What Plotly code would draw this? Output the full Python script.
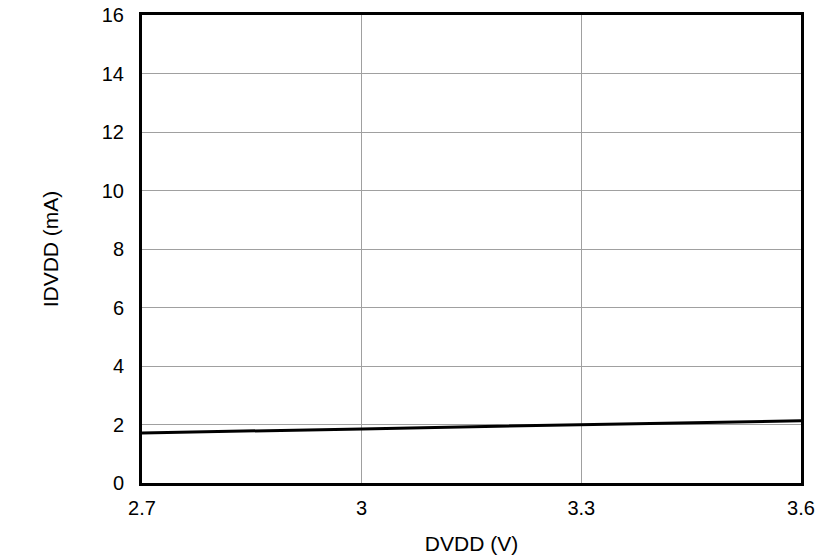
import plotly.graph_objects as go

dvdd = [2.7, 2.8, 2.9, 3.0, 3.1, 3.2, 3.3, 3.4, 3.5, 3.6]
idvdd = [1.71, 1.75, 1.80, 1.85, 1.90, 1.95, 2.00, 2.04, 2.08, 2.13]
xticks = [2.7, 3.0, 3.3, 3.6]
xticklabels = ["2.7", "3", "3.3", "3.6"]
yticks = [0, 2, 4, 6, 8, 10, 12, 14, 16]

fig = go.Figure(go.Scatter(x=dvdd, y=idvdd, mode="lines",
                           line=dict(color="black", width=3), showlegend=False))
tfont = dict(family="Liberation Sans, Arial, sans-serif", size=20, color="black")
hfont = dict(family="Liberation Sans, Arial, sans-serif", size=21, color="black")
fig.update_layout(
    width=839, height=559, paper_bgcolor="white", plot_bgcolor="white",
    margin=dict(l=142, r=38, t=15, b=76, autoexpand=False), font=tfont,
)
fig.update_xaxes(range=[2.7, 3.6], tickvals=xticks, ticktext=xticklabels,
                 showline=True, linecolor="black", linewidth=3, mirror=True,
                 showgrid=True, gridcolor="#a0a0a0", gridwidth=1, zeroline=False,
                 ticks="", ticklabelstandoff=5, tickfont=tfont, automargin=False,
                 title=dict(text="DVDD (V)", standoff=19, font=hfont))
fig.update_yaxes(range=[0, 16], tickvals=yticks,
                 showline=True, linecolor="black", linewidth=3, mirror=True,
                 showgrid=True, gridcolor="#a0a0a0", gridwidth=1, zeroline=False,
                 ticks="", ticklabelstandoff=11, tickfont=tfont, automargin=False,
                 title=dict(text="IDVDD (mA)", standoff=38, font=hfont))
fig.write_html("out.html", config={"displayModeBar": False},
               post_script="document.body.style.margin='0';document.body.style.overflow='hidden';")
